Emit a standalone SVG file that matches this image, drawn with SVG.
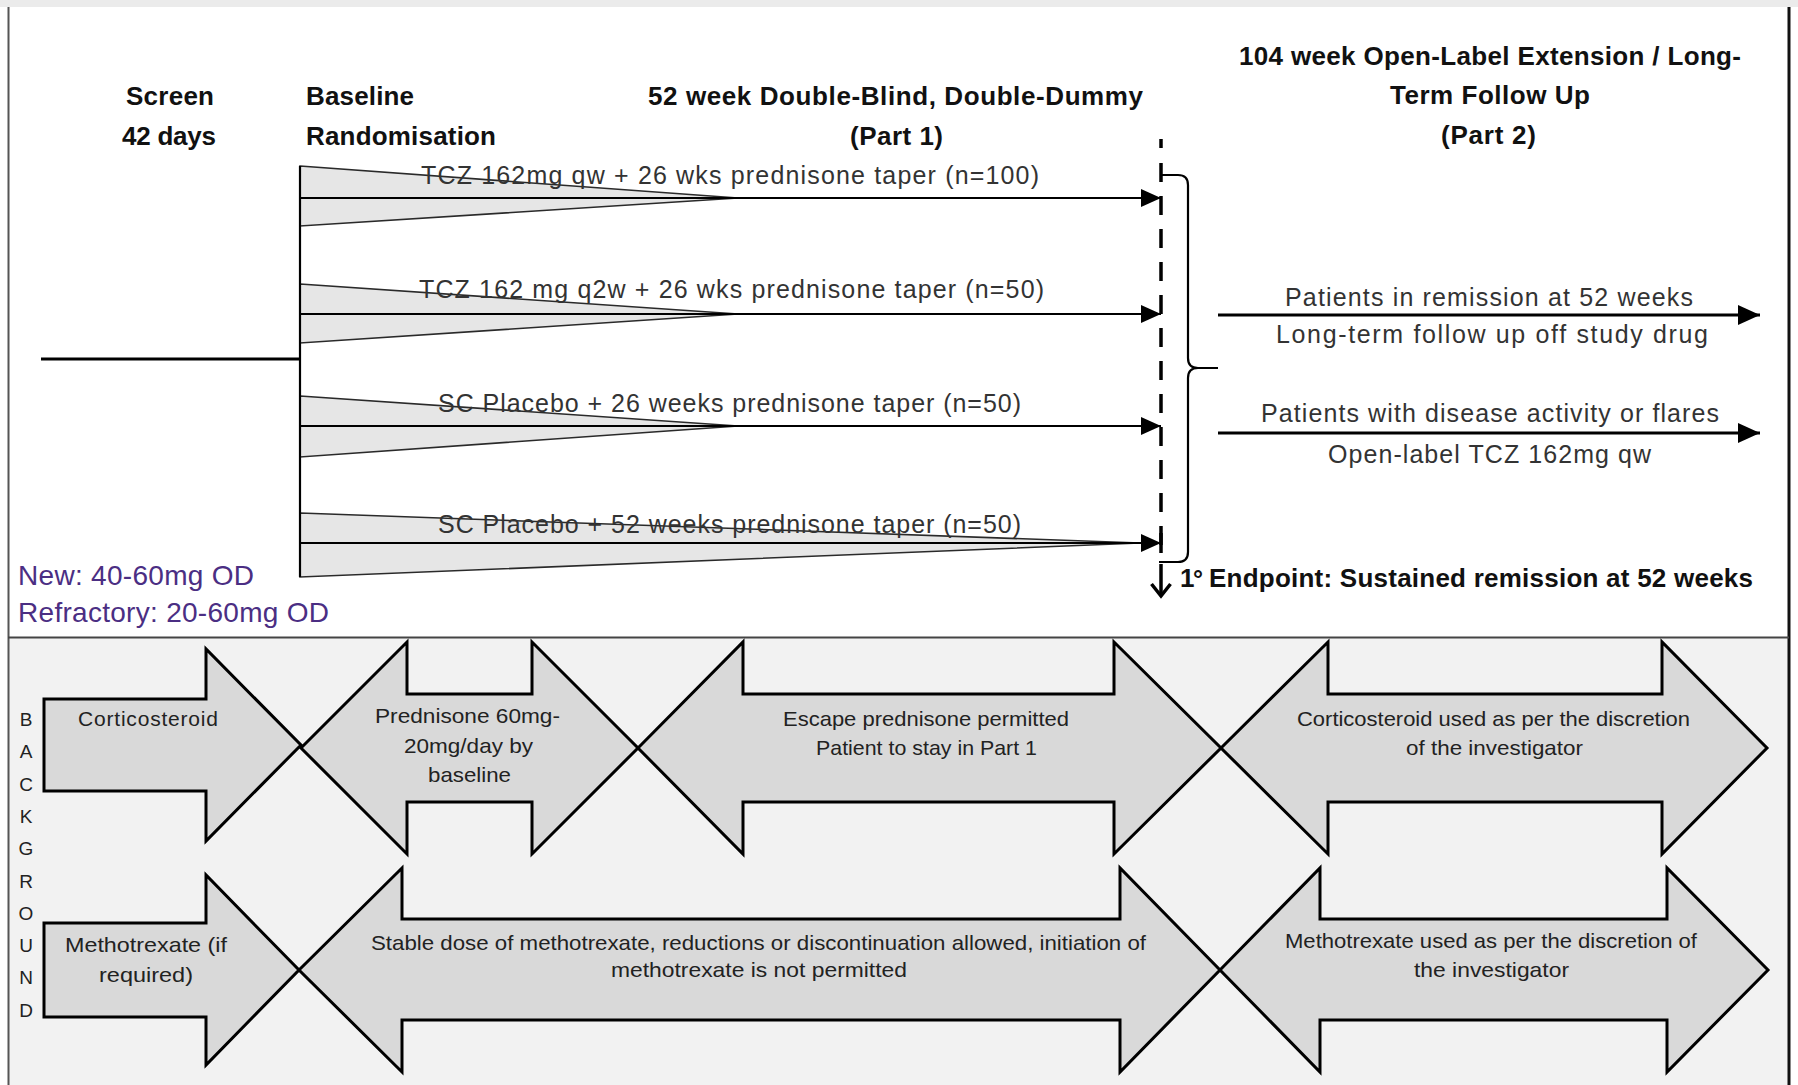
<svg xmlns="http://www.w3.org/2000/svg" width="1798" height="1085" viewBox="0 0 1798 1085">
<defs>
<style>
text{font-family:"Liberation Sans",Arial,sans-serif;}
.hd{font-size:26px;font-weight:bold;fill:#111;}
.arm{font-size:25px;fill:#333;}
.bt{font-size:21px;fill:#222;}
.bg{font-size:19px;fill:#222;text-anchor:middle;}
.pu{font-size:28px;fill:#4b2e83;}
.fan{fill:#e6e6e6;stroke:#2a2a2a;stroke-width:1.6;}
.ln{stroke:#000;stroke-width:2.2;fill:none;}
.thk{stroke:#000;stroke-width:3;fill:none;}
.big{fill:#d9d9d9;stroke:#000;stroke-width:3;stroke-linejoin:miter;}
</style>
<marker id="ah" markerUnits="userSpaceOnUse" markerWidth="20" markerHeight="18" refX="20" refY="9" orient="auto"><path d="M0,0 L20,9 L0,18 Z" fill="#000"/></marker>
<marker id="ah2" markerUnits="userSpaceOnUse" markerWidth="22" markerHeight="20" refX="22" refY="10" orient="auto"><path d="M0,0 L22,10 L0,20 Z" fill="#000"/></marker>
</defs>

<rect x="0" y="0" width="1798" height="1085" fill="#fff"/>
<rect x="0" y="0" width="1798" height="7" fill="#ebebeb"/>
<rect x="9" y="638" width="1779" height="447" fill="#f2f2f2"/>
<line x1="8.5" y1="7" x2="8.5" y2="1085" stroke="#555" stroke-width="2"/>
<line x1="1789" y1="7" x2="1789" y2="1085" stroke="#111" stroke-width="3"/>
<line x1="8" y1="637.5" x2="1789" y2="637.5" stroke="#444" stroke-width="2"/>

<g id="headers">
<text class="hd" x="126" y="105" textLength="88" lengthAdjust="spacing">Screen</text>
<text class="hd" x="122" y="145" textLength="94" lengthAdjust="spacing">42 days</text>
<text class="hd" x="306" y="105" textLength="108" lengthAdjust="spacing">Baseline</text>
<text class="hd" x="306" y="145" textLength="190" lengthAdjust="spacing">Randomisation</text>
<text class="hd" x="648" y="105" textLength="495" lengthAdjust="spacing">52 week Double-Blind, Double-Dummy</text>
<text class="hd" x="850" y="145" textLength="93" lengthAdjust="spacing">(Part 1)</text>
<text class="hd" x="1239" y="65" textLength="502" lengthAdjust="spacing">104 week Open-Label Extension / Long-</text>
<text class="hd" x="1390" y="104" textLength="200" lengthAdjust="spacing">Term Follow Up</text>
<text class="hd" x="1441" y="144" textLength="95" lengthAdjust="spacing">(Part 2)</text>
</g>

<g id="dose-note">
<text class="pu" x="18" y="585" textLength="236" lengthAdjust="spacing">New: 40-60mg OD</text>
<text class="pu" x="18" y="622" textLength="311" lengthAdjust="spacing">Refractory: 20-60mg OD</text>
</g>

<g id="arm1">
<polygon class="fan" points="300,166 738,198 300,226"/>
<text class="arm" x="421" y="184" textLength="618" lengthAdjust="spacing">TCZ 162mg qw + 26 wks prednisone taper (n=100)</text>
</g>
<g id="arm2">
<polygon class="fan" points="300,284 738,314 300,343"/>
<text class="arm" x="419" y="298" textLength="625" lengthAdjust="spacing">TCZ 162 mg q2w + 26 wks prednisone taper (n=50)</text>
</g>
<g id="arm3">
<polygon class="fan" points="300,396 738,426 300,457"/>
<text class="arm" x="438" y="412" textLength="583" lengthAdjust="spacing">SC Placebo + 26 weeks prednisone taper (n=50)</text>
</g>
<g id="arm4">
<polygon class="fan" points="300,513 1140,543 300,577"/>
<text class="arm" x="438" y="533" textLength="583" lengthAdjust="spacing">SC Placebo + 52 weeks prednisone taper (n=50)</text>
</g>

<g id="week52-marker">
<line x1="1161" y1="139" x2="1161" y2="148" stroke="#000" stroke-width="3.5"/>
<line x1="1161" y1="163" x2="1161" y2="553" stroke="#000" stroke-width="3.5" stroke-dasharray="19 14"/>
<line x1="1161" y1="533" x2="1161" y2="553" stroke="#000" stroke-width="3.5"/>
<path class="ln" d="M1162,175 H1178 Q1188,175 1188,185 V358 Q1188,368 1198,368 H1218 M1198,368 Q1188,368 1188,378 V552 Q1188,562 1178,562 H1159"/>
</g>

<g id="endpoint">
<text class="hd" x="1180" y="587">1</text>
<text class="hd" x="1193" y="588" style="font-size:25px">°</text>
<text class="hd" x="1209" y="587" textLength="544" lengthAdjust="spacing">Endpoint: Sustained remission at 52 weeks</text>
</g>

<g id="part2-remission">
<text class="arm" x="1285" y="306" textLength="408" lengthAdjust="spacing">Patients in remission at 52 weeks</text>
<text class="arm" x="1276" y="343" textLength="432" lengthAdjust="spacing">Long-term follow up off study drug</text>
</g>
<g id="part2-flares">
<text class="arm" x="1261" y="422" textLength="458" lengthAdjust="spacing">Patients with disease activity or flares</text>
<text class="arm" x="1328" y="463" textLength="323" lengthAdjust="spacing">Open-label TCZ 162mg qw</text>
</g>

<g id="connectors">
<line class="thk" x1="41" y1="359" x2="300" y2="359"/>
<line class="ln" x1="300" y1="166" x2="300" y2="577"/>
<line class="ln" x1="300" y1="198" x2="1161" y2="198" marker-end="url(#ah)"/>
<line class="ln" x1="300" y1="314" x2="1161" y2="314" marker-end="url(#ah)"/>
<line class="ln" x1="300" y1="426" x2="1161" y2="426" marker-end="url(#ah)"/>
<line class="ln" x1="300" y1="543" x2="1161" y2="543" marker-end="url(#ah)"/>
<line class="thk" x1="1218" y1="315" x2="1760" y2="315" marker-end="url(#ah2)"/>
<line class="thk" x1="1218" y1="433" x2="1760" y2="433" marker-end="url(#ah2)"/>
<line class="thk" x1="1161" y1="564" x2="1161" y2="595" style="stroke-width:3.5"/>
<polyline class="thk" points="1151.5,584 1161,596 1170.5,584" style="stroke-width:3.5"/>
</g>

<g id="background-label">
<text class="bg" x="26" y="726">B</text>
<text class="bg" x="26" y="758">A</text>
<text class="bg" x="26" y="791">C</text>
<text class="bg" x="26" y="823">K</text>
<text class="bg" x="26" y="855">G</text>
<text class="bg" x="26" y="888">R</text>
<text class="bg" x="26" y="920">O</text>
<text class="bg" x="26" y="952">U</text>
<text class="bg" x="26" y="984">N</text>
<text class="bg" x="26" y="1017">D</text>
</g>

<g id="cs-before">
<path class="big" d="M44,699 H206 V649 L301,745 L206,841 V791 H44 Z"/>
<text class="bt" x="78" y="726" textLength="140" lengthAdjust="spacing">Corticosteroid</text>
</g>
<g id="cs-screen">
<path class="big" d="M301,748 L407,642 V694 H532 V642 L638,748 L532,854 V802 H407 V854 Z"/>
<text class="bt" x="375" y="723" textLength="185" lengthAdjust="spacingAndGlyphs">Prednisone 60mg-</text>
<text class="bt" x="404" y="753" textLength="129" lengthAdjust="spacingAndGlyphs">20mg/day by</text>
<text class="bt" x="428" y="782" textLength="83" lengthAdjust="spacingAndGlyphs">baseline</text>
</g>
<g id="cs-part1">
<path class="big" d="M638,748 L743,642 V694 H1114 V642 L1221,748 L1114,854 V802 H743 V854 Z"/>
<text class="bt" x="783" y="726" textLength="286" lengthAdjust="spacingAndGlyphs">Escape prednisone permitted</text>
<text class="bt" x="816" y="755" textLength="221" lengthAdjust="spacingAndGlyphs">Patient to stay in Part 1</text>
</g>
<g id="cs-part2">
<path class="big" d="M1221,748 L1328,642 V694 H1662 V642 L1767,748 L1662,854 V802 H1328 V854 Z"/>
<text class="bt" x="1297" y="726" textLength="393" lengthAdjust="spacingAndGlyphs">Corticosteroid used as per the discretion</text>
<text class="bt" x="1406" y="755" textLength="177" lengthAdjust="spacingAndGlyphs">of the investigator</text>
</g>

<g id="mtx-before">
<path class="big" d="M44,923 H206 V875 L299,970 L206,1065 V1017 H44 Z"/>
<text class="bt" x="65" y="952" textLength="162" lengthAdjust="spacingAndGlyphs">Methotrexate (if</text>
<text class="bt" x="99" y="982" textLength="94" lengthAdjust="spacingAndGlyphs">required)</text>
</g>
<g id="mtx-part1">
<path class="big" d="M299,970 L402,868 V919 H1120 V868 L1220,970 L1120,1072 V1020 H402 V1072 Z"/>
<text class="bt" x="371" y="950" textLength="775" lengthAdjust="spacingAndGlyphs">Stable dose of methotrexate, reductions or discontinuation allowed, initiation of</text>
<text class="bt" x="611" y="977" textLength="296" lengthAdjust="spacingAndGlyphs">methotrexate is not permitted</text>
</g>
<g id="mtx-part2">
<path class="big" d="M1220,970 L1320,868 V919 H1667 V868 L1768,970 L1667,1072 V1020 H1320 V1072 Z"/>
<text class="bt" x="1285" y="948" textLength="412" lengthAdjust="spacingAndGlyphs">Methotrexate used as per the discretion of</text>
<text class="bt" x="1414" y="977" textLength="155" lengthAdjust="spacingAndGlyphs">the investigator</text>
</g>
</svg>
